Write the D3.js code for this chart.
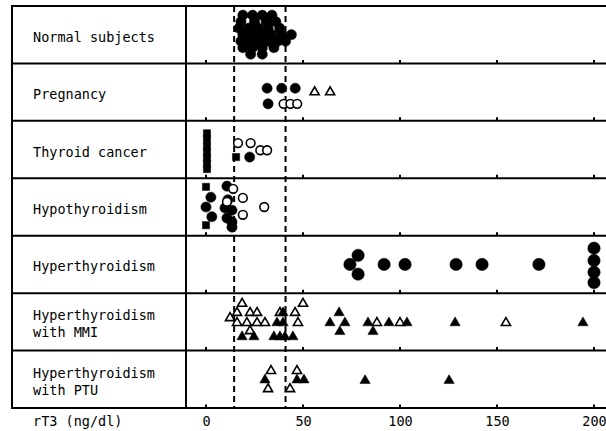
<html>
  <head>
    <script src="https://d3js.org/d3.v7.min.js"></script>
    <style>
      body { margin: 0; background: #fff; }
      text { font-family: "DejaVu Sans Mono", monospace; font-size: 13.5px; fill: #000; }
    </style>
  </head>
  <body>
    <svg class="chart"></svg>
  <script>
  const groups = ['Normal subjects', 'Pregnancy', 'Thyroid cancer', 'Hypothyroidism',
    'Hyperthyroidism', 'Hyperthyroidism\nwith MMI', 'Hyperthyroidism\nwith PTU'];
  const xTicks = [0, 50, 100, 150, 200];
  const normalRange = [14.5, 41];

  // [rT3 value, stacking lane, shape (c/s/t), filled]
  const normal = [
    [19,-3,'c',1],[24,-3,'c',1],[29,-3,'c',1],[34,-3,'c',1],
    [18,-2,'c',1],[25,-2,'c',1],[31,-2,'c',1],[36,-2,'c',1],
    [17,-1,'c',1],[22,-1,'c',1],[27,-1,'c',1],[32,-1,'c',1],[38,-1,'c',1],
    [19,0,'c',1],[24,0,'c',1],[29,0,'c',1],[34,0,'c',1],[39,0,'c',1],[44,0,'c',1],
    [18,1,'c',1],[22,1,'c',1],[27,1,'c',1],[32,1,'c',1],[37,1,'c',1],[41,1,'c',1],
    [19,2,'c',1],[24,2,'c',1],[29,2,'c',1],[35,2,'c',1],
    [23,3,'c',1],[29,3,'c',1]
  ];
  const pregnancy = [
    [31.5,-0.6,'c',1],[39,-0.6,'c',1],[46,-0.6,'c',1],
    [32,1.8,'c',1],[40,1.8,'c',0],[43.5,1.8,'c',0],[47,1.8,'c',0],
    [56,0,'t',0],[64,0,'t',0]
  ];
  const thyroidCancer = [
    [0.5,-2.5,'s',1],[0.5,-1.6,'s',1],[0.5,-0.5,'s',1],[0.5,0.4,'s',1],
    [0.5,1.3,'s',1],[0.5,2.2,'s',1],[0.5,3.0,'s',1],
    [16.5,-1,'c',0],[23,-1,'c',0],[28,0.1,'c',0],[31.5,0.1,'c',0],
    [15.5,1.15,'s',1],[22.5,1.15,'c',1]
  ];
  const hypo = [
    [0,-3.1,'s',1],[2.5,-1.5,'c',1],[0,0,'c',1],[3,1.5,'c',1],[0,2.8,'s',1],
    [10.8,-3.2,'c',1],[11.3,-1.1,'c',1],[9.8,0.15,'c',1],[13.4,0.5,'c',1],
    [10.8,1.7,'c',1],[13.4,2.3,'c',1],[13.4,3.1,'c',1],
    [14,-2.8,'c',0],[19,-1.4,'c',0],[10.8,-0.8,'c',0],[19,1.2,'c',0],[30,0,'c',0]
  ];
  const hyper = [
    [78.4,-1.4,'c',1],[74.2,0,'c',1],[78.4,1.5,'c',1],[91.8,0,'c',1],[102.6,0,'c',1],
    [128.9,0,'c',1],[142.3,0,'c',1],[171.6,0,'c',1],
    [200,-2.5,'c',1],[200,-0.6,'c',1],[200,1.2,'c',1],[200,2.8,'c',1]
  ];
  const mmi = [
    [18.6,-2.8,'t',0],[16,-1.4,'t',0],[22.7,-1.4,'t',0],[26.3,-1.4,'t',0],[12.4,-0.6,'t',0],
    [16,0.15,'t',0],[21.1,0.15,'t',0],[26.3,0.15,'t',0],[30.4,0.15,'t',0],[22.7,1.4,'t',0],
    [38.1,-1.4,'t',0],[45.9,-1.4,'t',0],[50,-2.8,'t',0],[47.4,0.15,'t',0],
    [18.6,2.3,'t',1],[24.7,2.3,'t',1],[35,2.3,'t',1],[38.1,2.3,'t',1],[40.7,2.3,'t',1],[44.8,2.3,'t',1],
    [36.6,0.15,'t',1],[39.7,0.15,'t',1],[39.7,-1.4,'t',1],
    [68.6,-1.4,'t',1],[63.9,0.15,'t',1],[71.6,0.15,'t',1],[69,1.5,'t',1],
    [83.5,0.15,'t',1],[88.1,0.15,'t',0],[94.3,0.15,'t',1],[100,0.15,'t',0],[103.6,0.15,'t',1],
    [86.1,1.5,'t',1],[128.4,0.15,'t',1],[154.6,0.15,'t',0],[194.3,0.15,'t',1]
  ];
  const ptu = [
    [33.5,-1.3,'t',0],[30.4,0.1,'t',1],[32,1.5,'t',0],
    [46.9,-1.3,'t',0],[46.9,0.1,'t',1],[50.5,0.1,'t',1],[43.3,1.5,'t',0],
    [82,0.2,'t',1],[125.3,0.2,'t',1]
  ];
  const groupPoints = [normal, pregnancy, thyroidCancer, hypo, hyper, mmi, ptu];

  const width = 606, height = 431;
  const leftX = 12, divider = 186, topY = 6, bottomY = 408;

  const svg = d3.select('.chart')
    .attr('width', width)
    .attr('height', height)
    .attr('viewBox', [0, 0, width, height]);

  const x = d3.scaleLinear().domain([0, 200]).range([206, 594]);
  const y = d3.scaleBand().domain(groups).range([topY, bottomY]);
  const lane = d3.scaleLinear().domain([-1, 1]).range([-6.5, 6.5]);

  // frame
  const frame = svg.append('g').attr('stroke', '#000').attr('stroke-width', 2);
  frame.append('line').attr('x1', leftX).attr('x2', leftX).attr('y1', topY - 1).attr('y2', bottomY + 1);
  frame.append('line').attr('x1', divider).attr('x2', divider).attr('y1', topY - 1).attr('y2', bottomY + 1);
  frame.append('line').attr('x1', leftX).attr('x2', width).attr('y1', topY).attr('y2', topY);
  frame.append('g').selectAll('line')
    .data(groups)
    .join('line')
      .attr('x1', leftX).attr('x2', width)
      .attr('y1', d => y(d) + y.bandwidth())
      .attr('y2', d => y(d) + y.bandwidth());

  // small tick bumps on every row line
  groups.forEach(g => {
    frame.append('g').selectAll('line')
      .data(xTicks)
      .join('line')
        .attr('x1', d => x(d)).attr('x2', d => x(d))
        .attr('y1', y(g) + y.bandwidth() - 3.5)
        .attr('y2', y(g) + y.bandwidth());
  });

  // normal range
  svg.append('g').selectAll('line')
    .data(normalRange)
    .join('line')
      .attr('x1', d => x(d)).attr('x2', d => x(d))
      .attr('y1', topY).attr('y2', bottomY)
      .attr('stroke', '#000')
      .attr('stroke-width', 2)
      .attr('stroke-dasharray', '6,4');

  // group labels
  svg.append('g').selectAll('text')
    .data(groups)
    .join('text')
      .attr('x', 33)
      .attr('y', d => y(d) + y.bandwidth() / 2 + 7)
      .each(function(d) {
        const lines = d.split('\n');
        const shift = (lines.length - 1) * 8.5;
        d3.select(this).selectAll('tspan')
          .data(lines)
          .join('tspan')
            .attr('x', 33)
            .attr('dy', (l, i) => i === 0 ? -shift : 17)
            .text(l => l);
      });

  // points
  const symbols = { c: d3.symbolCircle, s: d3.symbolSquare, t: d3.symbolTriangle };
  groups.forEach((g, gi) => {
    const cy = y(g) + y.bandwidth() / 2;
    const big = g === 'Hyperthyroidism';
    svg.append('g').selectAll('path')
      .data(groupPoints[gi])
      .join('path')
        .attr('transform', d => `translate(${x(d[0])},${cy + lane(d[1])})`)
        .attr('d', d => {
          let size;
          if (d[2] === 'c') size = big ? 120 : (d[3] ? 82 : 60);
          else if (d[2] === 's') size = 52;
          else size = d[3] ? 46 : 36;
          return d3.symbol(symbols[d[2]], size)();
        })
        .attr('fill', d => d[3] ? '#000' : '#fff')
        .attr('stroke', '#000')
        .attr('stroke-width', d => d[3] ? 0.5 : 1.6);
  });

  // x axis labels
  const axis = svg.append('g')
    .attr('transform', `translate(0,${bottomY + 5})`)
    .call(d3.axisBottom(x).tickValues(xTicks).tickSize(0).tickPadding(3));
  axis.select('.domain').remove();
  axis.selectAll('text')
    .attr('font-family', '"DejaVu Sans Mono", monospace')
    .attr('font-size', 13.5)
    .attr('fill', '#000');

  svg.append('text')
    .attr('x', 33)
    .attr('y', 426)
    .text('rT3 (ng/dl)');
  </script>
  </body>
</html>
